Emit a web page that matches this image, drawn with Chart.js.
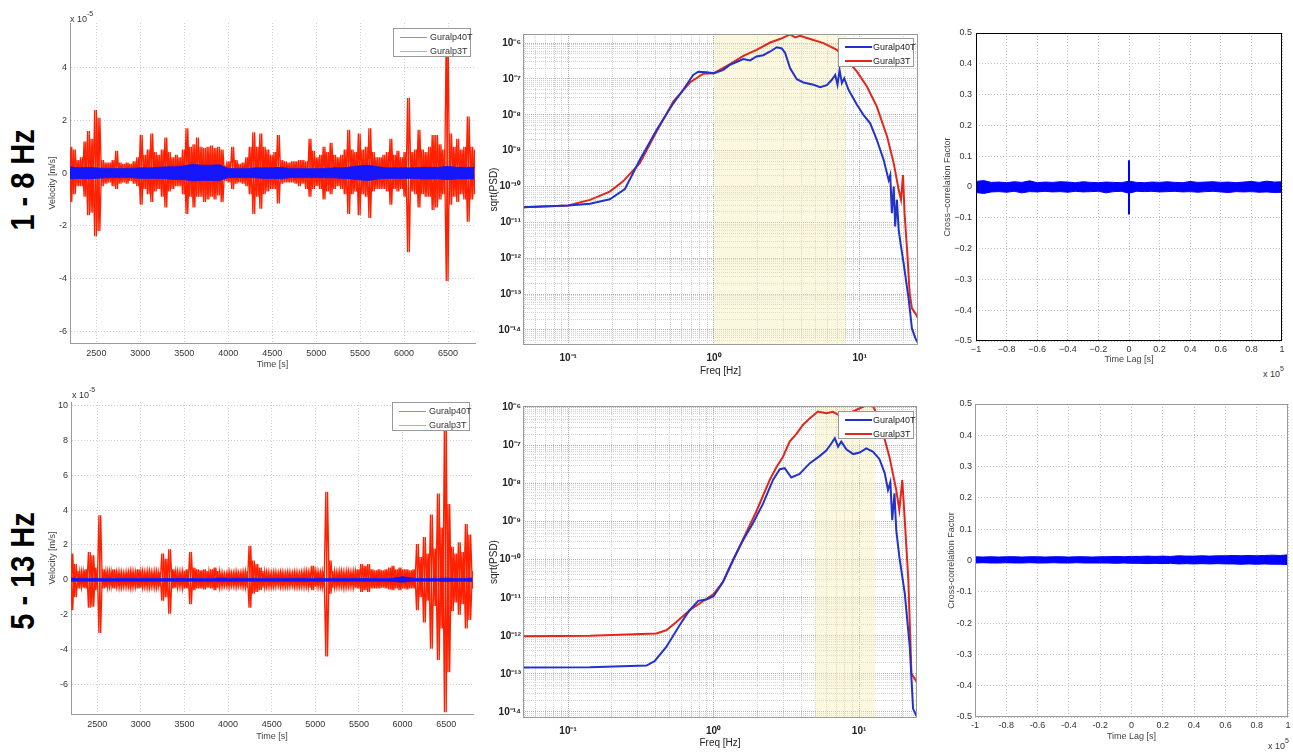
<!DOCTYPE html>
<html lang="en">
<head>
<meta charset="UTF-8" />
<title>Guralp40T vs Guralp3T</title>
<script src="https://cdn.jsdelivr.net/npm/chart.js"></script>
<style>
  body { margin: 0; width: 1293px; height: 752px; position: relative; overflow: hidden; background: #fff;
         font-family: "Liberation Sans", Arial, sans-serif; }
  canvas { position: absolute; }
  .row { position: absolute; font: bold 34px "Liberation Sans", Arial, sans-serif; color: #000; white-space: nowrap;
         transform: translate(-50%, -50%) rotate(-90deg) scale(0.85, 1); }
  .exp { position: absolute; font-size: 9px; color: #333; white-space: nowrap; }
  .exp sup { font-size: 7px; position: relative; top: -2px; }
  .legend { position: absolute; box-sizing: border-box; background: #fff; border: 1px solid #999;
            font-size: 9px; color: #333; padding-top: 1px; }
  .legend div { position: relative; height: 14px; line-height: 14px; padding-left: 36px; white-space: nowrap; }
  .legend i { position: absolute; left: 6px; top: 7px; width: 27px; height: 0; border-top: 1px solid; }
  .legend.thick i { border-top-width: 2px; top: 6px; }
  .legend.thick div { padding-left: 34px; color: #222; }
</style>
</head>
<body>

<div class="row" style="left:22px;top:180px">1 - 8 Hz</div>
<div class="row" style="left:22px;top:571px">5 - 13 Hz</div>

<canvas id="c1"></canvas>
<canvas id="c2"></canvas>
<canvas id="c3"></canvas>
<canvas id="c4"></canvas>
<canvas id="c5"></canvas>
<canvas id="c6"></canvas>

<div class="exp" style="left:70px;top:12px">x 10<sup>-5</sup></div>
<div class="exp" style="left:72px;top:388px">x 10<sup>-5</sup></div>
<div class="exp" style="left:1263px;top:367px">x 10<sup>5</sup></div>
<div class="exp" style="left:1268px;top:739px">x 10<sup>5</sup></div>

<div class="legend" style="left:393px;top:28px;width:78px;height:29px">
  <div><i style="border-color:#8c8ce0"></i>Guralp40T</div>
  <div><i style="border-color:#e49a94"></i>Guralp3T</div>
</div>
<div class="legend" style="left:392px;top:402px;width:78px;height:29px">
  <div><i style="border-color:#8c8ce0"></i>Guralp40T</div>
  <div><i style="border-color:#e49a94"></i>Guralp3T</div>
</div>
<div class="legend thick" style="left:838px;top:38px;width:76px;height:29px">
  <div><i style="border-color:#2233cc"></i>Guralp40T</div>
  <div><i style="border-color:#e2261c"></i>Guralp3T</div>
</div>
<div class="legend thick" style="left:838px;top:411px;width:76px;height:28px">
  <div><i style="border-color:#2233cc"></i>Guralp40T</div>
  <div><i style="border-color:#e2261c"></i>Guralp3T</div>
</div>

<script>
// ---------- velocity traces (units of 1e-5 m/s), red = envelope read every 40 s ----------
const TIME = [
  2200,2240,2280,2320,2360,2400,2440,2480,2520,2560,
  2600,2640,2680,2720,2760,2800,2840,2880,2920,2960,
  3000,3040,3080,3120,3160,3200,3240,3280,3320,3360,
  3400,3440,3480,3520,3560,3600,3640,3680,3720,3760,
  3800,3840,3880,3920,3960,4000,4040,4080,4120,4160,
  4200,4240,4280,4320,4360,4400,4440,4480,4520,4560,
  4600,4640,4680,4720,4760,4800,4840,4880,4920,4960,
  5000,5040,5080,5120,5160,5200,5240,5280,5320,5360,
  5400,5440,5480,5520,5560,5600,5640,5680,5720,5760,
  5800,5840,5880,5920,5960,6000,6040,6080,6120,6160,
  6200,6240,6280,6320,6360,6400,6440,6480,6520,6560,
  6600,6640,6680,6720,6760,6800];

const RED1_UP = [
  1.0,0.9,0.5,0.6,1.2,1.6,1.3,2.4,2.1,0.5,
  0.4,0.4,0.5,0.85,0.4,0.35,0.4,0.35,0.45,0.6,
  1.45,0.7,0.9,1.5,0.8,0.7,0.9,1.35,0.8,0.6,
  0.7,0.6,0.9,1.7,1.0,1.1,1.35,1.0,0.95,1.0,
  1.05,0.95,1.0,0.9,0.3,0.45,1.0,0.5,0.35,0.4,
  0.6,1.0,1.55,1.0,1.5,1.0,0.9,0.7,0.8,1.45,
  0.5,0.45,0.4,0.45,0.45,0.5,0.5,0.45,1.3,0.85,
  0.6,0.7,1.0,0.8,1.15,0.7,0.6,0.7,0.9,1.65,
  0.9,0.8,1.5,0.9,1.0,1.7,0.8,0.6,0.6,0.7,
  0.8,1.3,0.7,0.85,0.6,0.8,2.85,0.8,0.9,1.65,
  0.9,0.8,1.0,1.45,1.45,1.1,0.9,5.5,1.5,1.0,
  1.3,0.9,1.0,2.15,1.0,0.9];
const RED1_LO = [
  -1.1,-0.8,-0.5,-0.5,-0.9,-1.6,-1.5,-2.4,-2.2,-0.5,
  -0.4,-0.35,-0.5,-0.6,-0.4,-0.35,-0.4,-0.3,-0.4,-0.5,
  -1.2,-0.6,-0.8,-1.1,-0.7,-0.6,-0.9,-1.3,-0.7,-0.6,
  -0.5,-0.5,-0.8,-1.55,-0.9,-1.3,-0.9,-0.9,-1.1,-1.0,
  -0.9,-1.0,-0.85,-1.1,-0.3,-0.35,-0.6,-0.4,-0.35,-0.4,
  -0.5,-0.8,-1.55,-0.9,-1.35,-0.8,-0.7,-0.6,-0.6,-1.15,
  -0.4,-0.35,-0.35,-0.35,-0.4,-0.5,-0.4,-0.6,-0.9,-0.6,
  -0.5,-0.6,-1.0,-0.7,-0.8,-0.6,-0.5,-0.6,-0.8,-1.55,
  -0.8,-0.7,-1.6,-0.8,-0.9,-1.7,-0.7,-0.6,-0.6,-0.6,
  -0.7,-1.2,-0.6,-0.7,-0.6,-0.9,-3.0,-0.7,-0.8,-1.3,
  -0.8,-0.9,-0.9,-1.4,-1.3,-1.0,-0.8,-4.1,-1.2,-0.9,
  -1.1,-0.8,-1.0,-1.85,-1.0,-0.8];

const RED2_UP = [
  1.5,0.9,0.5,0.5,0.6,1.6,1.4,0.7,3.7,0.6,
  0.5,0.5,0.6,0.45,0.45,0.4,0.45,0.5,0.45,0.6,
  0.5,0.45,0.5,0.45,0.5,0.45,1.5,1.2,1.75,0.6,
  0.5,0.45,0.5,0.6,1.6,0.7,0.6,0.55,0.6,0.5,
  0.6,0.7,0.5,0.4,0.35,0.45,0.4,0.45,0.4,0.45,
  0.5,1.95,1.1,0.9,0.7,0.5,0.45,0.4,0.45,0.4,
  0.45,0.4,0.45,0.4,0.45,0.4,0.45,0.5,0.45,0.8,
  0.5,0.45,0.5,5.05,1.1,0.5,0.45,0.5,0.45,0.5,
  0.45,0.5,0.6,0.9,0.8,0.9,0.6,0.55,0.6,0.55,
  0.6,0.7,0.8,0.6,0.7,0.6,0.6,0.55,0.6,2.05,
  1.3,2.45,1.5,3.75,1.8,4.95,3.0,9.5,4.35,1.9,
  1.5,2.15,1.6,3.2,2.6,0.5];
const RED2_LO = [
  -1.75,-1.0,-0.5,-0.45,-0.5,-1.6,-1.55,-0.6,-3.05,-0.5,
  -0.45,-0.4,-0.5,-0.4,-0.45,-0.4,-0.4,-0.45,-0.4,-0.5,
  -0.45,-0.4,-0.45,-0.4,-0.45,-0.4,-1.2,-1.0,-1.95,-0.5,
  -0.45,-0.4,-0.5,-0.5,-1.4,-0.6,-0.5,-0.5,-0.55,-0.45,
  -0.5,-0.6,-0.45,-0.4,-0.35,-0.4,-0.35,-0.4,-0.35,-0.4,
  -0.45,-1.6,-0.8,-0.7,-0.6,-0.45,-0.4,-0.4,-0.4,-0.35,
  -0.4,-0.4,-0.4,-0.35,-0.4,-0.4,-0.4,-0.4,-0.45,-0.6,
  -0.4,-0.4,-0.45,-4.4,-0.8,-0.45,-0.4,-0.4,-0.45,-0.4,
  -0.4,-0.45,-0.5,-0.7,-0.6,-0.7,-0.5,-0.5,-0.5,-0.45,
  -0.5,-0.55,-0.6,-0.5,-0.6,-0.5,-0.55,-0.5,-0.5,-1.75,
  -1.0,-2.45,-1.2,-3.95,-1.5,-4.6,-2.8,-7.6,-5.3,-1.8,
  -1.3,-2.0,-1.4,-2.8,-2.3,-0.5];

// blue trace band, read every 100 s
const TIME_B = [
  2200,2300,2400,2500,2600,2700,2800,2900,3000,3100,
  3200,3300,3400,3500,3600,3700,3800,3900,4000,4100,
  4200,4300,4400,4500,4600,4700,4800,4900,5000,5100,
  5200,5300,5400,5500,5600,5700,5800,5900,6000,6100,
  6200,6300,6400,6500,6600,6700,6800];
const BLUE1_UP = [
  0.24,0.2,0.22,0.2,0.18,0.18,0.17,0.18,0.2,0.2,
  0.22,0.24,0.24,0.28,0.34,0.3,0.3,0.32,0.18,0.17,
  0.17,0.2,0.2,0.2,0.22,0.17,0.17,0.17,0.17,0.18,
  0.2,0.2,0.24,0.28,0.3,0.24,0.2,0.2,0.2,0.2,
  0.22,0.22,0.22,0.26,0.22,0.22,0.22];
const BLUE1_LO = [
  -0.22,-0.2,-0.22,-0.2,-0.18,-0.17,-0.17,-0.17,-0.2,-0.2,
  -0.2,-0.22,-0.24,-0.25,-0.3,-0.28,-0.28,-0.29,-0.17,-0.17,
  -0.17,-0.18,-0.2,-0.2,-0.22,-0.17,-0.17,-0.17,-0.17,-0.18,
  -0.18,-0.2,-0.22,-0.26,-0.28,-0.22,-0.2,-0.2,-0.2,-0.2,
  -0.22,-0.22,-0.22,-0.25,-0.22,-0.22,-0.22];
const BLUE2_UP = [
  0.1,0.08,0.08,0.08,0.08,0.08,0.08,0.08,0.08,0.08,
  0.08,0.08,0.08,0.08,0.08,0.08,0.08,0.1,0.08,0.08,
  0.08,0.08,0.08,0.08,0.08,0.08,0.08,0.08,0.08,0.08,
  0.08,0.08,0.08,0.08,0.08,0.08,0.08,0.1,0.18,0.1,
  0.08,0.08,0.08,0.1,0.08,0.08,0.1];
const BLUE2_LO = [
  -0.08,-0.08,-0.08,-0.08,-0.08,-0.08,-0.08,-0.08,-0.08,-0.08,
  -0.08,-0.08,-0.08,-0.08,-0.08,-0.08,-0.08,-0.08,-0.08,-0.08,
  -0.08,-0.08,-0.08,-0.08,-0.08,-0.08,-0.08,-0.08,-0.08,-0.08,
  -0.08,-0.08,-0.08,-0.08,-0.08,-0.08,-0.08,-0.1,-0.14,-0.08,
  -0.08,-0.08,-0.08,-0.1,-0.08,-0.08,-0.1];

const TIME_TICKS = [2500,3000,3500,4000,4500,5000,5500,6000,6500];
const VEL1_TICKS = [-6,-4,-2,0,2,4];
const VEL2_TICKS = [-6,-4,-2,0,2,4,6,8,10];

// ---------- sqrt(PSD) spectra ----------
const PSD1_F_BLUE = [0.049,0.1,0.141,0.193,0.245,0.31,0.404,0.526,0.616,0.721,0.78,0.89,1.0,1.16,1.29,1.59,1.77,1.96,2.18,2.43,2.70,2.92,3.08,3.33,3.70,4.11,4.82,5.35,5.95,6.44,6.79,7.04,7.27,7.54,7.82,8.38,9.57,10.6,11.8,13.1,14.6,15.8,16.2,16.6,17.1,17.5,18.0,18.5,19.2,20.0,21.7,22.8,24.1,25.1];
const PSD1_BLUE = [2.65e-11,2.95e-11,3.3e-11,4.4e-11,8.5e-11,5.5e-10,3.8e-9,2.1e-8,5.0e-8,1.3e-7,1.6e-7,1.55e-7,1.45e-7,1.8e-7,2.5e-7,3.6e-7,3.3e-7,4.25e-7,4.6e-7,5.85e-7,7.7e-7,7.1e-7,5.3e-7,2.0e-7,9.9e-8,8.0e-8,6.9e-8,5.9e-8,6.7e-8,9.5e-8,1.3e-7,6.9e-8,1.8e-7,7.7e-8,1.05e-7,5.0e-8,1.9e-8,1.0e-8,5.8e-9,2.0e-9,5.5e-10,1.5e-10,2.1e-10,1.8e-11,1.0e-10,7.7e-12,4.3e-11,6.2e-12,2.1e-12,7.2e-13,6.9e-14,1.1e-14,5.8e-15,4.3e-15];
const PSD1_F_RED = [0.049,0.1,0.141,0.193,0.238,0.31,0.404,0.526,0.684,0.845,1.0,1.29,1.59,1.96,2.43,2.84,3.33,3.60,3.90,4.57,5.64,6.97,8.17,9.57,11.2,13.1,15.4,17.1,18.5,19.2,19.8,20.3,21.2,22.0,22.8,24.1,25.1];
const PSD1_RED = [2.65e-11,2.95e-11,4.25e-11,7.2e-11,1.4e-10,4.5e-10,3.4e-9,2.35e-8,8.0e-8,1.4e-7,1.45e-7,2.6e-7,4.4e-7,6.5e-7,1.04e-6,1.3e-6,1.75e-6,1.45e-6,1.6e-6,1.3e-6,1.0e-6,6.5e-7,3.4e-7,1.6e-7,6.2e-8,1.7e-8,2.5e-9,4.5e-10,8.1e-11,4.3e-11,2.1e-10,1.8e-11,1.4e-12,1.05e-13,4.0e-14,2.9e-14,2.1e-14];

const PSD2_F_BLUE = [0.049,0.141,0.346,0.393,0.473,0.584,0.684,0.784,0.89,1.0,1.16,1.36,1.59,1.86,2.18,2.56,2.85,3.08,3.42,3.90,4.57,5.35,5.95,6.46,6.81,7.17,7.55,8.17,9.1,10.1,11.2,12.5,13.8,15.0,15.8,16.4,16.9,17.5,18.0,18.9,20.6,22.3,23.5,24.8];
const PSD2_BLUE = [1.47e-13,1.5e-13,1.65e-13,2.15e-13,5.1e-13,1.9e-12,4.7e-12,8.3e-12,9.0e-12,1.1e-11,2.6e-11,9.8e-11,3.2e-10,9.0e-10,2.9e-9,1.25e-8,2.4e-8,2.55e-8,1.45e-8,1.8e-8,3.4e-8,5.3e-8,7.4e-8,1.15e-7,1.56e-7,9.4e-8,1.27e-7,8.0e-8,6.0e-8,6.6e-8,8.5e-8,6.9e-8,4.4e-8,1.9e-8,6.8e-9,1.1e-8,1.1e-9,5.6e-9,6.0e-10,1.2e-10,1.3e-11,5.1e-13,1.2e-14,7.7e-15];
const PSD2_F_RED = [0.049,0.141,0.404,0.473,0.555,0.684,0.845,1.0,1.16,1.59,1.96,2.43,2.70,3.0,3.33,3.70,4.11,4.57,5.21,5.95,6.6,7.7,8.6,10.1,11.2,12.5,13.1,14.6,16.2,18.0,18.9,19.8,20.6,21.8,22.9,24.1,24.8];
const PSD2_RED = [9.8e-13,1.0e-12,1.15e-12,1.4e-12,2.3e-12,4.7e-12,8.1e-12,1.25e-11,2.6e-11,3.4e-10,1.8e-9,1.25e-8,2.7e-8,5.1e-8,1.27e-7,2.0e-7,3.5e-7,5.2e-7,7.85e-7,7.1e-7,7.7e-7,5.6e-7,7.1e-7,9.6e-7,1.15e-6,1.06e-6,7.4e-7,2.1e-7,4.9e-8,6.8e-9,2.0e-9,1.25e-8,1.1e-9,2.9e-11,1.0e-13,7.5e-14,6.2e-14];

const BAND1 = [1, 8];     // 1 - 8 Hz
const BAND2 = [5, 13];    // 5 - 13 Hz

// ---------- cross-correlation (lag in units of 1e5 s) ----------
const LAG = [-1,-0.95,-0.9,-0.85,-0.8,-0.75,-0.7,-0.65,-0.6,-0.55,-0.5,-0.45,-0.4,-0.35,-0.3,-0.25,-0.2,-0.15,-0.1,-0.05,0,
             0.05,0.1,0.15,0.2,0.25,0.3,0.35,0.4,0.45,0.5,0.55,0.6,0.65,0.7,0.75,0.8,0.85,0.9,0.95,1];
const XC1_UP = [0.018,0.021,0.015,0.016,0.014,0.017,0.015,0.020,0.014,0.016,0.015,0.017,0.016,0.014,0.017,0.015,0.014,0.016,0.015,0.014,0.019,
                0.015,0.014,0.016,0.015,0.017,0.015,0.014,0.018,0.015,0.016,0.017,0.015,0.016,0.014,0.016,0.018,0.015,0.019,0.016,0.017];
const XC1_LO = [-0.018,-0.021,-0.016,-0.015,-0.017,-0.014,-0.019,-0.015,-0.016,-0.014,-0.016,-0.015,-0.017,-0.014,-0.016,-0.015,-0.014,-0.019,-0.015,-0.014,-0.020,
                -0.014,-0.015,-0.014,-0.016,-0.015,-0.014,-0.016,-0.015,-0.017,-0.015,-0.014,-0.016,-0.018,-0.015,-0.016,-0.015,-0.017,-0.016,-0.018,-0.017];
const XC1_PEAK = [-0.089, 0.087];
const XC2_UP = [0.012,0.011,0.012,0.011,0.012,0.012,0.011,0.012,0.012,0.011,0.012,0.012,0.011,0.012,0.012,0.011,0.012,0.012,0.013,0.012,0.013,
                0.013,0.014,0.013,0.014,0.013,0.015,0.014,0.014,0.015,0.014,0.015,0.015,0.016,0.015,0.016,0.015,0.016,0.017,0.016,0.018];
const XC2_LO = [-0.008,-0.007,-0.008,-0.008,-0.007,-0.008,-0.008,-0.007,-0.008,-0.008,-0.007,-0.008,-0.008,-0.007,-0.008,-0.008,-0.008,-0.008,-0.009,-0.008,-0.009,
                -0.009,-0.010,-0.009,-0.010,-0.009,-0.011,-0.010,-0.011,-0.010,-0.011,-0.010,-0.011,-0.011,-0.012,-0.011,-0.012,-0.011,-0.012,-0.012,-0.013];
const LAG_TICKS = [-1,-0.8,-0.6,-0.4,-0.2,0,0.2,0.4,0.6,0.8,1];
const XC_TICKS = [-0.5,-0.4,-0.3,-0.2,-0.1,0,0.1,0.2,0.3,0.4,0.5];

// ---------- helpers ----------
Chart.defaults.font.family = '"Liberation Sans", Arial, sans-serif';
Chart.defaults.font.size = 9;
Chart.defaults.color = '#333';

Chart.register({
  id: 'frame',
  afterDraw(chart, args, opts) {
    if (!opts.color) return;
    const a = chart.chartArea, ctx = chart.ctx;
    ctx.save();
    ctx.strokeStyle = opts.color;
    ctx.lineWidth = 1;
    ctx.strokeRect(Math.round(a.left) + 0.5, Math.round(a.top) + 0.5,
                   Math.round(a.right - a.left) - 1, Math.round(a.bottom - a.top) - 1);
    ctx.restore();
  }
});

const pts = (xs, ys, dx = 0) => xs.map((x, i) => ({x: x + dx, y: ys[i]}));
// alternate the two envelope readings so the trace looks like a dense oscillation
function zigzag(xs, a, b, half) {
  const out = [];
  xs.forEach((x, i) => { out.push({x, y: a[i]}); out.push({x: x + half, y: b[i]}); });
  return out;
}
const SUP = {'-': '\u207B', '0': '\u2070', '1': '\u00B9', '2': '\u00B2', '3': '\u00B3', '4': '\u2074',
             '5': '\u2075', '6': '\u2076', '7': '\u2077', '8': '\u2078', '9': '\u2079'};
const isDecade = v => Math.abs(Math.log10(v) - Math.round(Math.log10(v))) < 1e-6;
const powLabel = v => '10' + String(Math.round(Math.log10(v))).split('').map(c => SUP[c]).join('');
function logTicks(min, max) {
  const out = [];
  for (let e = Math.floor(Math.log10(min)); e <= Math.ceil(Math.log10(max)); e++) {
    for (let k = 1; k < 10; k++) {
      const v = k * Math.pow(10, e);
      if (v >= min && v <= max) out.push({value: v});
    }
  }
  return out;
}

function linAxis(o) {
  return {
    type: 'linear', min: o.min, max: o.max,
    afterBuildTicks: s => { s.ticks = o.ticks.map(v => ({value: v})); },
    afterFit: s => { if (s.isHorizontal()) s.height = o.size; else s.width = o.size; },
    ticks: {autoSkip: false, maxRotation: 0, padding: o.pad, callback: o.fmt || (v => String(v))},
    grid: {color: o.grid, drawTicks: false},
    border: {display: o.border !== false, color: '#9a9a9a', dash: [1, 2]},
    title: {display: true, text: o.title, padding: 0, color: '#444'}
  };
}
function logAxis(o) {
  return {
    type: 'logarithmic', min: o.min, max: o.max,
    afterBuildTicks: s => { s.ticks = logTicks(o.min, o.max); },
    afterFit: s => { if (s.isHorizontal()) s.height = o.size; else s.width = o.size; },
    ticks: {autoSkip: false, maxRotation: 0, padding: o.pad, color: '#222', font: {size: 10, weight: 'bold'},
            callback: v => isDecade(v) ? powLabel(v) : ''},
    grid: {drawTicks: false, color: c => (c.tick && isDecade(c.tick.value)) ? '#b0b0b0' : '#d2d2d2'},
    border: {display: false, dash: [1, 1]},
    title: {display: true, text: o.title, padding: 0, color: '#222', font: {size: 10}}
  };
}

function panel(id, box, yw, xh, x, y, datasets, frameColor) {
  const c = document.getElementById(id);
  const [L, T, R, B] = box;
  const padT = 14, padR = 6;
  const w = R - L + yw + padR, h = B - T + padT + xh;
  Object.assign(c.style, {left: (L - yw) + 'px', top: (T - padT) + 'px', width: w + 'px', height: h + 'px'});
  c.width = w; c.height = h;
  return new Chart(c, {
    type: 'line',
    data: {datasets},
    options: {
      responsive: false, animation: false, devicePixelRatio: 1, parsing: false,
      layout: {padding: {top: padT, right: padR, left: 0, bottom: 0}},
      plugins: {legend: {display: false}, tooltip: {enabled: false}, frame: {color: frameColor}},
      elements: {point: {radius: 0}, line: {tension: 0}},
      scales: {x, y}
    }
  });
}

const RED_TS = 'rgb(255,32,0)', BLUE_TS = 'rgb(22,22,250)';
function traceSets(up, lo, bUp, bLo) {
  return [
    {data: zigzag(TIME, up, lo, 20), borderColor: RED_TS, borderWidth: 1.3, order: 2},
    {data: zigzag(TIME, lo, up, 20), borderColor: RED_TS, borderWidth: 1.3, order: 2},
    {data: pts(TIME_B, bUp), borderColor: BLUE_TS, borderWidth: 0.8, fill: '+1', backgroundColor: BLUE_TS, order: 1},
    {data: pts(TIME_B, bLo), borderColor: BLUE_TS, borderWidth: 0.8, order: 1}
  ];
}
function psdSets(fb, b, fr, r, band, top) {
  return [
    {data: [{x: band[0], y: top}, {x: band[1], y: top}], borderWidth: 0, fill: 'start',
     backgroundColor: 'rgba(244,236,170,0.38)', order: 5},
    {data: pts(fr, r), borderColor: '#e2261c', borderWidth: 2, order: 2},
    {data: pts(fb, b), borderColor: '#2233cc', borderWidth: 2, order: 1}
  ];
}
function xcSets(up, lo, peak) {
  const blue = 'rgb(0,0,255)';
  const sets = [
    {data: pts(LAG, up), borderColor: blue, borderWidth: 1, fill: '+1', backgroundColor: blue},
    {data: pts(LAG, lo), borderColor: blue, borderWidth: 1}
  ];
  if (peak) sets.push({data: [{x: 0, y: peak[0]}, {x: 0, y: peak[1]}], borderColor: blue, borderWidth: 2});
  return sets;
}

// ---------- top row : 1 - 8 Hz ----------
panel('c1', [70, 23, 475, 343], 23, 27,
  linAxis({min: 2200, max: 6807, ticks: TIME_TICKS, pad: 5, size: 27, title: 'Time [s]', grid: '#cfcfcf'}),
  linAxis({min: -6.45, max: 5.7, ticks: VEL1_TICKS, pad: 3, size: 23, title: 'Velocity [m/s]', grid: '#cfcfcf'}),
  traceSets(RED1_UP, RED1_LO, BLUE1_UP, BLUE1_LO));

panel('c2', [523, 34, 918, 345], 35, 32,
  logAxis({min: 0.049, max: 25.1, pad: 7, size: 32, title: 'Freq [Hz]'}),
  logAxis({min: 3.8e-15, max: 1.8e-6, pad: 2, size: 35, title: 'sqrt(PSD)'}),
  psdSets(PSD1_F_BLUE, PSD1_BLUE, PSD1_F_RED, PSD1_RED, BAND1, 1.8e-6), '#9a9a9a');

panel('c3', [976, 33, 1282, 341], 34, 24,
  linAxis({min: -1, max: 1, ticks: LAG_TICKS, pad: 3, size: 24, title: 'Time Lag [s]', grid: '#bdbdbd',
           fmt: v => String(v).replace('-', '\u2212'), border: false}),
  linAxis({min: -0.5, max: 0.5, ticks: XC_TICKS, pad: 4, size: 34, title: 'Cross\u2212correlation Factor', grid: '#bdbdbd',
           fmt: v => String(v).replace('-', '\u2212'), border: false}),
  xcSets(XC1_UP, XC1_LO, XC1_PEAK), '#000');

// ---------- bottom row : 5 - 13 Hz ----------
panel('c4', [71, 402, 473, 714], 24, 28,
  linAxis({min: 2200, max: 6807, ticks: TIME_TICKS, pad: 5, size: 28, title: 'Time [s]', grid: '#cfcfcf'}),
  linAxis({min: -7.7, max: 10.2, ticks: VEL2_TICKS, pad: 3, size: 24, title: 'Velocity [m/s]', grid: '#cfcfcf'}),
  traceSets(RED2_UP, RED2_LO, BLUE2_UP, BLUE2_LO));

panel('c5', [523, 406, 917, 718], 35, 31,
  logAxis({min: 0.049, max: 25, pad: 7, size: 31, title: 'Freq [Hz]'}),
  logAxis({min: 6.9e-15, max: 1.1e-6, pad: 2, size: 35, title: 'sqrt(PSD)'}),
  psdSets(PSD2_F_BLUE, PSD2_BLUE, PSD2_F_RED, PSD2_RED, BAND2, 1.1e-6), '#9a9a9a');

panel('c6', [975, 404, 1288, 717], 29, 25,
  linAxis({min: -1, max: 1, ticks: LAG_TICKS, pad: 3, size: 25, title: 'Time Lag [s]', grid: '#c4c4c4', border: false}),
  linAxis({min: -0.5, max: 0.5, ticks: XC_TICKS, pad: 3, size: 29, title: 'Cross-correlation Factor', grid: '#c4c4c4', border: false}),
  xcSets(XC2_UP, XC2_LO, null), '#9a9a9a');
</script>
</body>
</html>
